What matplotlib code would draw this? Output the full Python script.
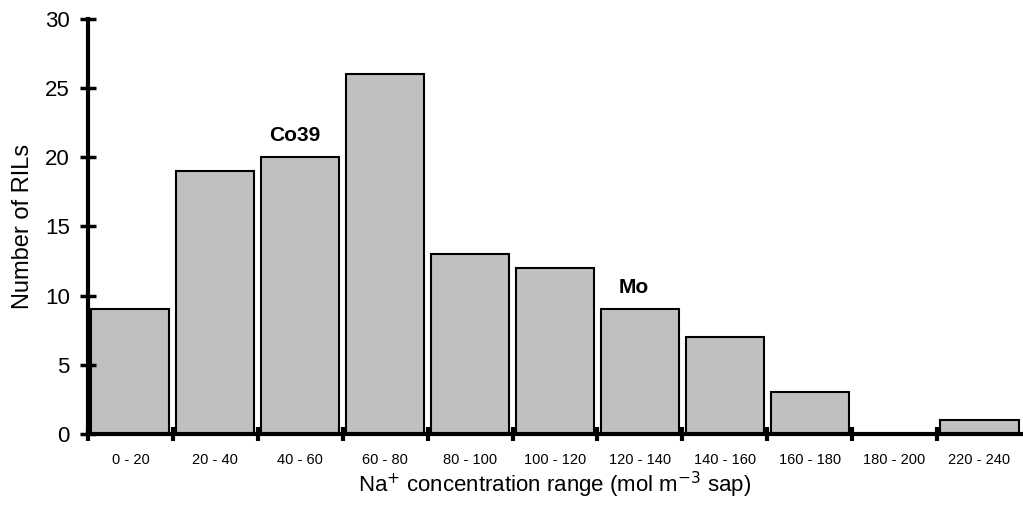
import numpy as np
import matplotlib.pyplot as plt

plt.rcParams['font.family'] = ['Liberation Sans', 'DejaVu Sans']

# data
ranges = ['0 - 20', '20 - 40', '40 - 60', '60 - 80', '80 - 100', '100 - 120',
          '120 - 140', '140 - 160', '160 - 180', '180 - 200', '220 - 240']
counts = [9, 19, 20, 26, 13, 12, 9, 7, 3, 0, 1]
notes = {2: 'Co39', 6: 'Mo'}

fig = plt.figure(figsize=(10.23, 5.13), dpi=100)
ax = fig.add_axes([0.086, 0.154, 0.913, 0.809])

x = np.arange(len(ranges))
ax.bar(x + 0.5, counts, width=0.92, color='#c0c0c0', edgecolor='black', linewidth=1.5)

for i, txt in notes.items():
    ax.text(i + 0.43, counts[i] + 0.9, txt, ha='center', va='bottom',
            fontsize=15, fontweight='bold')

ax.set_xlim(0, len(ranges))
ax.set_ylim(0, 30)
ax.set_yticks(range(0, 31, 5))
ax.set_xticks(x)
ax.set_xticklabels([])
ax.set_xticks(x + 0.5, minor=True)
ax.set_xticklabels(ranges, minor=True, fontsize=10.5)
ax.tick_params(axis='x', which='minor', length=0, pad=14)
ax.tick_params(axis='x', which='major', direction='inout', length=10, width=3)
ax.tick_params(axis='y', direction='inout', length=12, width=2.5, labelsize=16, pad=7)

for s in ['top', 'right']:
    ax.spines[s].set_visible(False)
for s in ['left', 'bottom']:
    ax.spines[s].set_linewidth(3)

ax.set_ylabel('Number of RILs', fontsize=17, labelpad=8)
ax.set_xlabel('Na$^{+}$ concentration range (mol m$^{\\mathrm{-3}}$ sap)', fontsize=16, labelpad=2)

fig.savefig('out.png', dpi=100)
